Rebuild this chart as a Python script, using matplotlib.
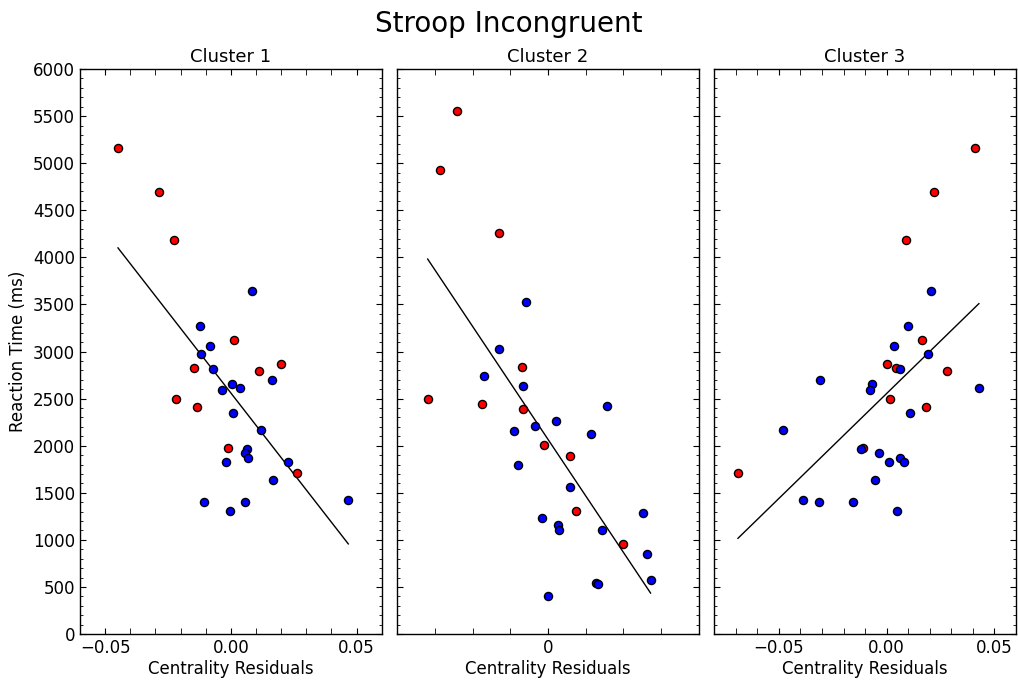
import matplotlib
matplotlib.use('Agg')
import matplotlib.pyplot as plt
import numpy as np
from matplotlib.ticker import MultipleLocator, FixedLocator, FixedFormatter

plt.rcParams['font.family'] = ['DejaVu Sans']
plt.rcParams['xtick.direction'] = 'in'
plt.rcParams['ytick.direction'] = 'in'
plt.rcParams['xtick.top'] = True
plt.rcParams['ytick.right'] = True
plt.rcParams['xtick.major.size'] = 4
plt.rcParams['ytick.major.size'] = 4
plt.rcParams['xtick.minor.size'] = 4
plt.rcParams['ytick.minor.size'] = 2
plt.rcParams['axes.linewidth'] = 1.0

# ---- data ----
cluster_titles = ['Cluster 1', 'Cluster 2', 'Cluster 3']

# cluster 1: red group then blue group
c1_red_x = [-0.0449, -0.0287, -0.0225, 0.0013, -0.0146, 0.0112, 0.0201, -0.0218, -0.0135, -0.0011, 0.0261]
c1_red_y = [5161, 4694, 4187, 3125, 2828, 2789, 2863, 2499, 2414, 1978, 1713]
c1_blue_x = [0.0085, -0.0123, -0.0085, -0.0120, -0.0073, 0.0163, 0.0004, 0.0037, -0.0034, 0.0009, 0.0118,
             0.0064, 0.0058, 0.0069, -0.0021, 0.0229, 0.0168, -0.0107, 0.0057, -0.0005, 0.0467]
c1_blue_y = [3639, 3267, 3054, 2974, 2814, 2693, 2655, 2616, 2591, 2343, 2170,
             1965, 1922, 1865, 1827, 1827, 1639, 1405, 1398, 1306, 1426]

# cluster 2
c2_red_x = [-0.0242, -0.0287, -0.0131, -0.0070, -0.0319, -0.0174, -0.0067, -0.0010, 0.0058, 0.0073, 0.0198]
c2_red_y = [5550, 4924, 4254, 2835, 2491, 2438, 2389, 2003, 1886, 1306, 952]
c2_blue_x = [-0.0058, -0.0129, -0.0169, -0.0065, 0.0156, 0.0022, -0.0034, -0.0091, 0.0114, -0.0079, 0.0059,
             0.0253, -0.0015, 0.0027, 0.0028, 0.0144, 0.0262, 0.0272, 0.0126, 0.0133, -0.0001]
c2_blue_y = [3522, 3027, 2743, 2630, 2417, 2262, 2205, 2159, 2120, 1791, 1561,
             1285, 1232, 1157, 1104, 1104, 853, 573, 542, 531, 407]

# cluster 3
c3_red_x = [0.0411, 0.0218, 0.0091, 0.0165, 0.0003, 0.0045, 0.0282, 0.0017, 0.0184, -0.0108, -0.0690]
c3_red_y = [5161, 4694, 4187, 3125, 2867, 2828, 2789, 2499, 2414, 1978, 1713]
c3_blue_x = [0.0206, 0.0099, 0.0036, 0.0193, 0.0063, -0.0307, -0.0066, -0.0079, 0.0428, 0.0108, -0.0480,
             -0.0119, -0.0034, 0.0060, 0.0079, 0.0009, -0.0052, -0.0386, -0.0154, -0.0313, 0.0048]
c3_blue_y = [3639, 3271, 3054, 2974, 2814, 2693, 2655, 2591, 2616, 2343, 2170,
             1961, 1922, 1865, 1827, 1827, 1635, 1426, 1405, 1398, 1306]

x_limits = [(-0.06, 0.06), (-0.04, 0.04), (-0.08, 0.06)]
x_tick_vals = [[-0.05, 0.0, 0.05], [0.0], [-0.05, 0.0, 0.05]]
x_tick_text = [['\u22120.05', '0.00', '0.05'], ['0'], ['\u22120.05', '0.00', '0.05']]

clusters = [
    (c1_red_x, c1_red_y, c1_blue_x, c1_blue_y),
    (c2_red_x, c2_red_y, c2_blue_x, c2_blue_y),
    (c3_red_x, c3_red_y, c3_blue_x, c3_blue_y),
]

fig, axes = plt.subplots(1, 3, figsize=(10.18, 6.8), dpi=100, sharey=True)
fig.subplots_adjust(left=0.0786, right=0.998, top=0.8985, bottom=0.0676, wspace=0.051)

for i, ax in enumerate(axes):
    rx, ry, bx, by = clusters[i]
    allx = np.array(rx + bx)
    ally = np.array(ry + by)

    # regression line over the data range
    m, b = np.polyfit(allx, ally, 1)
    xs = np.array([allx.min(), allx.max()])
    ax.plot(xs, m * xs + b, color='black', lw=1.0, zorder=2)

    ax.scatter(rx, ry, s=34, c='red', edgecolors='black', linewidths=1.0, zorder=3)
    ax.scatter(bx, by, s=34, c='blue', edgecolors='black', linewidths=1.0, zorder=3)

    ax.set_xlim(*x_limits[i])
    ax.set_ylim(0, 6000)
    ax.xaxis.set_major_locator(FixedLocator(x_tick_vals[i]))
    ax.xaxis.set_major_formatter(FixedFormatter(x_tick_text[i]))
    ax.xaxis.set_minor_locator(MultipleLocator(0.01))
    ax.yaxis.set_major_locator(MultipleLocator(500))
    ax.yaxis.set_minor_locator(MultipleLocator(100))
    ax.tick_params(labelsize=12)

    ax.set_title(cluster_titles[i], fontsize=13, pad=5)
    ax.set_xlabel('Centrality Residuals', fontsize=12, labelpad=2)

axes[0].set_ylabel('Reaction Time (ms)', fontsize=12)
for ax in axes[1:]:
    ax.tick_params(labelleft=False)

fig.suptitle('Stroop Incongruent', fontsize=20, y=0.985)

plt.savefig('out.png', dpi=100, facecolor='white')
